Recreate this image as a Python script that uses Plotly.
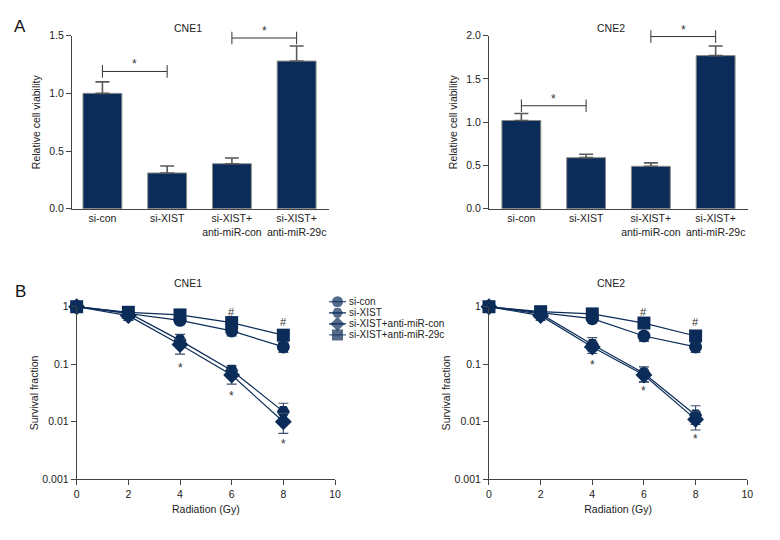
import math
import plotly.graph_objects as go

FONT = "Liberation Sans Narrow, Arial Narrow, Liberation Sans, Arial, sans-serif"
NAVY = "#0b2c58"
AXC = "#444444"

# ---- Panel A data ----
categories = ["si-con", "si-XIST", "si-XIST+<br>anti-miR-con", "si-XIST+<br>anti-miR-29c"]
cne1_bar = [1.00, 0.31, 0.39, 1.28]
cne1_err = [0.10, 0.06, 0.05, 0.13]
cne2_bar = [1.02, 0.59, 0.49, 1.77]
cne2_err = [0.08, 0.04, 0.04, 0.11]
cne1_brackets = [(0, 1, 1.19), (2, 3, 1.48)]
cne2_brackets = [(0, 1, 1.19), (2, 3, 1.99)]

# ---- Panel B data ----
dose = [0, 2, 4, 6, 8]
series_names = ["si-con", "si-XIST", "si-XIST+anti-miR-con", "si-XIST+anti-miR-29c"]
series_symbols = ["circle", "hexagon2", "diamond", "square"]

cne1_surv = {
    "si-con": [1.0, 0.76, 0.58, 0.38, 0.20],
    "si-XIST": [1.0, 0.78, 0.26, 0.078, 0.015],
    "si-XIST+anti-miR-con": [1.0, 0.70, 0.22, 0.065, 0.010],
    "si-XIST+anti-miR-29c": [1.0, 0.80, 0.72, 0.53, 0.32],
}
cne1_up = {
    "si-con": [0.06, 0.22, 0.08, 0.07, 0.04],
    "si-XIST": [0.06, 0.15, 0.07, 0.017, 0.006],
    "si-XIST+anti-miR-con": [0.06, 0.10, 0.05, 0.015, 0.004],
    "si-XIST+anti-miR-29c": [0.06, 0.15, 0.08, 0.06, 0.04],
}
cne1_dn = {
    "si-con": [0.06, 0.18, 0.08, 0.07, 0.04],
    "si-XIST": [0.06, 0.12, 0.05, 0.02, 0.004],
    "si-XIST+anti-miR-con": [0.06, 0.12, 0.07, 0.02, 0.0037],
    "si-XIST+anti-miR-29c": [0.06, 0.12, 0.08, 0.06, 0.04],
}
cne2_surv = {
    "si-con": [1.0, 0.78, 0.62, 0.31, 0.20],
    "si-XIST": [1.0, 0.75, 0.22, 0.070, 0.013],
    "si-XIST+anti-miR-con": [1.0, 0.70, 0.20, 0.065, 0.011],
    "si-XIST+anti-miR-29c": [1.0, 0.82, 0.75, 0.52, 0.31],
}
cne2_up = {
    "si-con": [0.06, 0.20, 0.06, 0.05, 0.03],
    "si-XIST": [0.06, 0.15, 0.07, 0.02, 0.006],
    "si-XIST+anti-miR-con": [0.06, 0.10, 0.05, 0.015, 0.004],
    "si-XIST+anti-miR-29c": [0.06, 0.25, 0.08, 0.06, 0.04],
}
cne2_dn = {
    "si-con": [0.06, 0.15, 0.06, 0.06, 0.04],
    "si-XIST": [0.06, 0.10, 0.05, 0.02, 0.004],
    "si-XIST+anti-miR-con": [0.06, 0.12, 0.045, 0.016, 0.0038],
    "si-XIST+anti-miR-29c": [0.06, 0.15, 0.08, 0.06, 0.04],
}
mark_x = [4, 6, 8]
cne1_hash_y = [1.15, 0.82, 0.55]
cne1_star_y = [0.097, 0.032, 0.0046]
cne2_hash_y = [1.17, 0.82, 0.55]
cne2_star_y = [0.11, 0.039, 0.0056]

FS = 10.5
fig = go.Figure()

# ---- Bars ----
def add_bars(vals, errs, brackets, xa, ya):
    fig.add_trace(go.Bar(
        x=categories, y=vals, xaxis=xa, yaxis=ya, width=0.6,
        marker=dict(color=NAVY, line=dict(color="#8a8a8a", width=1)),
        error_y=dict(type="data", symmetric=False, array=errs, arrayminus=[0] * len(errs),
                     color="#5a5a5a", thickness=1.6, width=7),
        showlegend=False, cliponaxis=False))
    for a, b, h in brackets:
        fig.add_trace(go.Scatter(
            x=[categories[a], categories[b]], y=[h, h], xaxis=xa, yaxis=ya,
            mode="lines+markers", line=dict(color="#333333", width=1),
            marker=dict(symbol="line-ns-open", size=9, line=dict(color="#333333", width=1)),
            showlegend=False, cliponaxis=False, hoverinfo="skip"))
        fig.add_annotation(x=(a + b) / 2, y=h, xref=xa, yref=ya, text="*", showarrow=False,
                           yanchor="bottom", yshift=-2, font=dict(family=FONT, size=12, color="#333333"))

add_bars(cne1_bar, cne1_err, cne1_brackets, "x", "y")
add_bars(cne2_bar, cne2_err, cne2_brackets, "x2", "y2")

# ---- Lines ----
def add_lines(surv, up, dn, xa, ya):
    for name, sym in zip(series_names, series_symbols):
        fig.add_trace(go.Scatter(
            x=dose, y=surv[name], xaxis=xa, yaxis=ya, name=name,
            mode="lines+markers",
            line=dict(color=NAVY, width=1.2),
            marker=dict(symbol=sym, size=13, color=NAVY),
            error_y=dict(type="data", symmetric=False, array=up[name], arrayminus=dn[name],
                         color="#3d4f6e", thickness=1.2, width=5),
            showlegend=False, cliponaxis=False))

add_lines(cne1_surv, cne1_up, cne1_dn, "x3", "y3")
add_lines(cne2_surv, cne2_up, cne2_dn, "x4", "y4")

for xa, ya, hy, sy in [("x3", "y3", cne1_hash_y, cne1_star_y), ("x4", "y4", cne2_hash_y, cne2_star_y)]:
    for xv, h, s in zip(mark_x, hy, sy):
        fig.add_annotation(x=xv, y=math.log10(h), xref=xa, yref=ya, text="#", showarrow=False,
                           font=dict(family=FONT, size=11, color="#333333"))
        fig.add_annotation(x=xv, y=math.log10(s), xref=xa, yref=ya, text="*", showarrow=False,
                           yshift=-3, font=dict(family=FONT, size=12, color="#333333"))

# ---- Compact legend (drawn on its own small axis) ----
legend_rows = list(range(len(series_names)))
for row, name, sym in zip(legend_rows, series_names, series_symbols):
    fig.add_trace(go.Scatter(
        x=[0, 0.5, 1], y=[row] * 3, xaxis="x5", yaxis="y5", mode="lines+markers",
        line=dict(color=NAVY if row < 3 else "#52688c", width=1.2),
        marker=dict(symbol=sym, size=[0, 11, 0], color=NAVY, line=dict(width=0)),
        showlegend=False, hoverinfo="skip", cliponaxis=False))
    fig.add_annotation(x=1, y=row, xref="x5", yref="y5", text=name, showarrow=False,
                       xanchor="left", yanchor="middle", xshift=1,
                       font=dict(family=FONT, size=10, color="#222222"))

# ---- Axes ----
tickfont = dict(family=FONT, size=FS, color="#222222")
titlefont = dict(family=FONT, size=FS, color="#222222")
common = dict(showline=True, linecolor=AXC, linewidth=1, showgrid=False, zeroline=False,
              ticks="outside", ticklen=5, tickcolor=AXC, tickfont=tickfont, automargin=False)
hidden = dict(visible=False, showgrid=False, zeroline=False, automargin=False)

fig.update_layout(
    xaxis=dict(domain=[0.0923, 0.4218], range=[-0.47, 3.5], tickangle=0, anchor="y",
               **{**common, "ticks": ""}),
    yaxis=dict(domain=[0.6135, 0.9339], range=[0, 1.5], tickvals=[0, 0.5, 1.0, 1.5],
               ticktext=["0.0", "0.5", "1.0", "1.5"], anchor="x",
               title=dict(text="Relative cell viability", font=titlefont, standoff=6), **common),
    xaxis2=dict(domain=[0.6269, 0.959], range=[-0.5, 3.5], tickangle=0, anchor="y2",
                **{**common, "ticks": ""}),
    yaxis2=dict(domain=[0.6135, 0.9339], range=[0, 2.0], tickvals=[0, 0.5, 1.0, 1.5, 2.0],
                ticktext=["0.0", "0.5", "1.0", "1.5", "2.0"], anchor="x2",
                title=dict(text="Relative cell viability", font=titlefont, standoff=6), **common),
    xaxis3=dict(domain=[0.0983, 0.4295], range=[0, 10], tickvals=[0, 2, 4, 6, 8, 10], anchor="y3",
                title=dict(text="Radiation (Gy)", font=titlefont, standoff=6), **common),
    yaxis3=dict(domain=[0.1124, 0.432], type="log", range=[-3, 0], tickvals=[1, 0.1, 0.01, 0.001],
                ticktext=["1", "0.1", "0.01", "0.001"], anchor="x3",
                title=dict(text="Survival fraction", font=titlefont, standoff=1), **common),
    xaxis4=dict(domain=[0.6269, 0.958], range=[0, 10], tickvals=[0, 2, 4, 6, 8, 10], anchor="y4",
                title=dict(text="Radiation (Gy)", font=titlefont, standoff=6), **common),
    yaxis4=dict(domain=[0.1124, 0.432], type="log", range=[-3, 0], tickvals=[1, 0.1, 0.01, 0.001],
                ticktext=["1", "0.1", "0.01", "0.001"], anchor="x4",
                title=dict(text="Survival fraction", font=titlefont, standoff=1), **common),
    xaxis5=dict(domain=[329 / 780, 346 / 780], range=[0, 1], anchor="y5", **hidden),
    yaxis5=dict(domain=[1 - 340.5 / 540, 1 - 296.2 / 540], range=[3.5, -0.5], anchor="x5", **hidden),
    width=780, height=540, margin=dict(l=0, r=0, t=0, b=0),
    paper_bgcolor="white", plot_bgcolor="white", showlegend=False,
    font=dict(family=FONT, size=FS, color="#222222"),
)

# titles and panel labels
for txt, xp in [("CNE1", 0.2407), ("CNE2", 0.7833)]:
    fig.add_annotation(x=xp, y=1 - 28 / 540, xref="paper", yref="paper", text=txt, showarrow=False,
                       xanchor="center", yanchor="middle",
                       font=dict(family=FONT, size=FS, color="#222222"))
    fig.add_annotation(x=xp, y=1 - 283 / 540, xref="paper", yref="paper", text=txt, showarrow=False,
                       xanchor="center", yanchor="middle",
                       font=dict(family=FONT, size=FS, color="#222222"))
fig.add_annotation(x=20 / 780, y=1 - 26 / 540, xref="paper", yref="paper", text="A", showarrow=False,
                   xanchor="center", yanchor="middle", font=dict(family=FONT, size=17, color="#111111"))
fig.add_annotation(x=20 / 780, y=1 - 291 / 540, xref="paper", yref="paper", text="B", showarrow=False,
                   xanchor="center", yanchor="middle", font=dict(family=FONT, size=17, color="#111111"))

fig.write_html("out.html", config={"displayModeBar": False},
               post_script="document.body.style.margin='0';")
